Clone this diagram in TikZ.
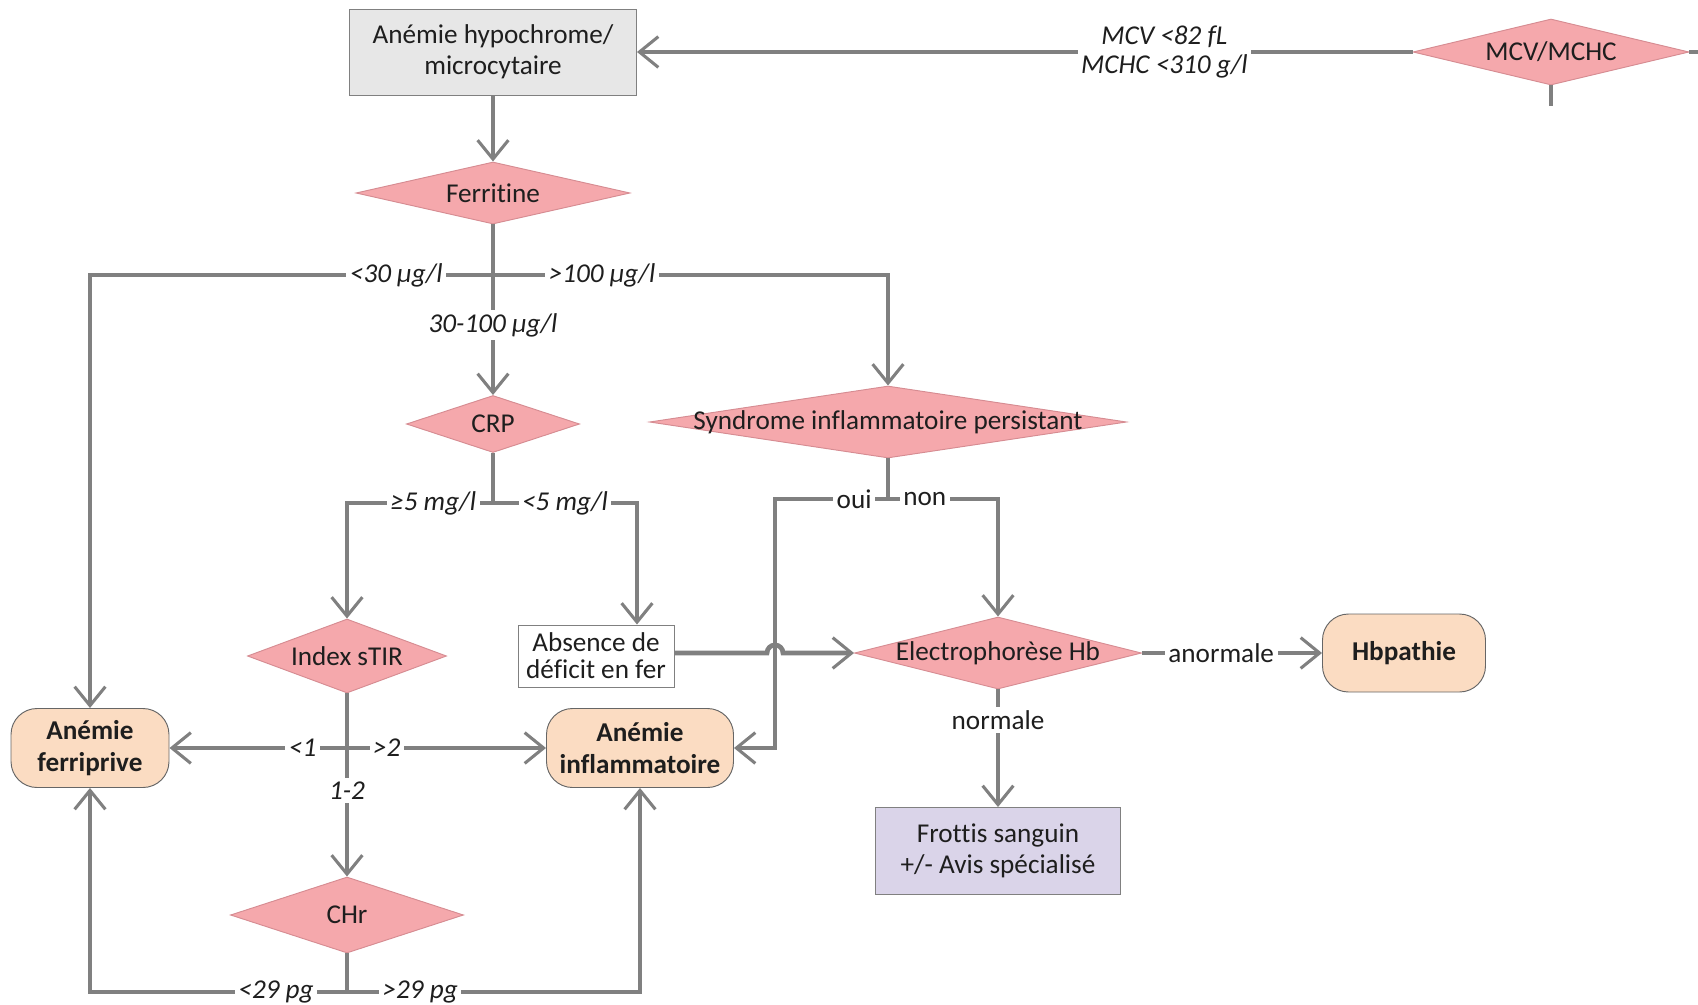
\documentclass[tikz,border=0pt]{standalone}
\usepackage{fontspec}
\setmainfont{Carlito}[Ligatures=NoCommon]
\usepackage{tikz}
\usetikzlibrary{arrows.meta, shapes.geometric}

\definecolor{linegray}{RGB}{128,128,128}
\definecolor{diafill}{RGB}{245,168,172}
\definecolor{diadraw}{RGB}{214,140,146}
\definecolor{endfill}{RGB}{251,220,194}
\definecolor{boxgray}{RGB}{231,231,231}
\definecolor{frotfill}{RGB}{218,212,233}
\definecolor{txt}{RGB}{30,30,30}

\newdimen\unitpx \unitpx=0.423pt
\newcommand{\dtext}[1]{\makebox[0pt]{#1}}

\begin{document}
\begin{tikzpicture}[
  x=0.423pt, y=-0.423pt,
  every node/.style={font=\fontsize{11.5}{13}\selectfont, text=txt},
  decision/.style={diamond, draw=diadraw, fill=diafill, inner sep=0pt},
  endnode/.style={draw=gray!80!black, fill=endfill, rounded corners=11pt,
                  align=center, font=\fontsize{11.5}{13.5}\selectfont\bfseries},
  rectbox/.style={draw=gray, rectangle, align=center},
  arr/.style={draw=linegray, line width=2pt,
              -{Straight Barb[length=8pt, width=13pt, line width=1.3pt]}},
  link/.style={draw=linegray, line width=2pt},
  lbl/.style={fill=white, inner sep=1.5pt, align=center,
              font=\fontsize{11.5}{12}\selectfont\itshape},
  ans/.style={fill=white, inner sep=1.5pt}
]
\useasboundingbox (0,0) rectangle (1698,1005);

% Start
\node[rectbox, fill=boxgray, minimum width=287\unitpx, minimum height=86\unitpx]
  (hypo) at (493,52) {Anémie hypochrome/\\microcytaire};
\node[decision, minimum width=276\unitpx, minimum height=66\unitpx]
  (mcv) at (1551,52) {\dtext{MCV/MCHC}};

% Tests
\node[decision, minimum width=274\unitpx, minimum height=62\unitpx]
  (fer) at (493,193) {\dtext{Ferritine}};
\node[decision, minimum width=173\unitpx, minimum height=57\unitpx]
  (crp) at (493,424) {\dtext{CRP}};
\node[decision, minimum width=477\unitpx, minimum height=72\unitpx]
  (syn) at (888,422) {\dtext{Syndrome inflammatoire persistant}};
\node[decision, minimum width=199\unitpx, minimum height=74\unitpx]
  (stir) at (347,656) {\dtext{Index sTIR}};
\node[rectbox, fill=white, minimum width=156\unitpx, minimum height=62\unitpx,
      inner sep=1pt, font=\fontsize{11.5}{11.5}\selectfont]
  (abs) at (596,656) {Absence de\\déficit en fer};
\node[decision, minimum width=287\unitpx, minimum height=72\unitpx]
  (elec) at (998,653) {\dtext{Electrophorèse Hb}};
\node[decision, minimum width=233\unitpx, minimum height=76\unitpx]
  (chr) at (347,915) {\dtext{CHr}};

% Results
\node[endnode, minimum width=158\unitpx, minimum height=79\unitpx]
  (ferri) at (90,748) {Anémie\\ferriprive};
\node[endnode, minimum width=187\unitpx, minimum height=79\unitpx]
  (infl) at (640,748) {Anémie\\inflammatoire};
\node[endnode, minimum width=163\unitpx, minimum height=78\unitpx]
  (hbp) at (1404,653) {Hbpathie};
\node[rectbox, fill=frotfill, minimum width=245\unitpx, minimum height=87\unitpx]
  (frot) at (998,851) {Frottis sanguin\\+/- Avis spécialisé};

% Branch points
\coordinate (mcvout) at (1698,52);
\coordinate (mcvdown) at (1551,106);
\coordinate (fsplit) at (493,275);
\coordinate (csplit) at (493,503);
\coordinate (ssplit) at (347,748);
\coordinate (hsplit) at (347,992);
\coordinate (osplit) at (888,499);
\coordinate (ouidown) at (775,748);
\coordinate (hop) at (775,653);

% Arrows
\draw[arr] (mcv.west) -- node[lbl, pos=0.32] {MCV <82 fL\\MCHC <310 g/l} (hypo.east);
\draw[link] (mcv.east) -- (mcvout);
\draw[link] (mcv.south) -- (mcvdown);
\draw[arr] (hypo) -- (fer);
\draw[arr] (fer.south) -- node[lbl, pos=0.59] {30-100 µg/l} (crp.north);
\draw[arr] (fsplit) -| node[lbl, pos=0.12] {<30 µg/l} (ferri.north);
\draw[arr] (fsplit) -| node[lbl, pos=0.138] {>100 µg/l} (syn.north);
\draw[link] (crp.south) -- (csplit);
\draw[arr] (csplit) -| node[lbl, pos=0.205] {≥5 mg/l} (stir.north);
\draw[arr] (csplit) -| node[lbl, pos=0.25] {<5 mg/l} ([xshift=41\unitpx]abs.north);
\draw[arr] (stir.south) -- node[lbl, pos=0.53] {1-2} (chr.north);
\draw[arr] (ssplit) -- node[lbl, pos=0.25] {<1} (ferri.east);
\draw[arr] (ssplit) -- node[lbl, pos=0.2] {>2} (infl.west);
\draw[link] (chr.south) -- (hsplit);
\draw[arr] (hsplit) -| node[lbl, pos=0.138] {<29 pg} (ferri.south);
\draw[arr] (hsplit) -| node[lbl, pos=0.125] {>29 pg} (infl.south);
\draw[link] (syn.south) -- (osplit);
\draw[arr] (osplit) -| node[ans, pos=0.15] {oui} (ouidown) -- (infl.east);
\draw[arr] (osplit) -| node[ans, pos=0.167] {non} (elec.north);
\draw[arr] (abs.east |- hop) -- ([xshift=-8\unitpx]hop)
  arc[start angle=180, end angle=0, radius=8\unitpx] -- (elec.west);
\draw[arr] (elec) -- node[ans, pos=0.44] {anormale} (hbp);
\draw[arr] (elec) -- node[ans, pos=0.26] {normale} (frot);

\end{tikzpicture}
\end{document}
